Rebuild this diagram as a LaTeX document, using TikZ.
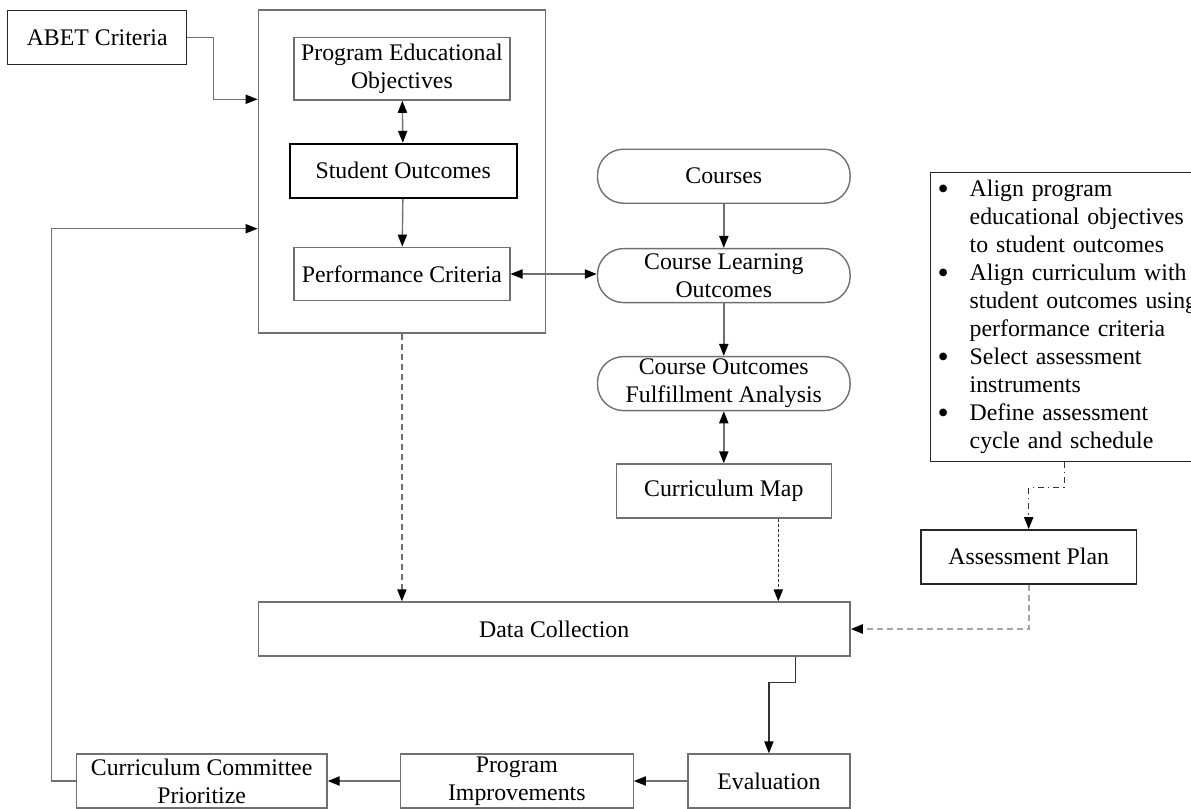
\documentclass[tikz,border=0pt]{standalone}
\usepackage{fontspec}
\setmainfont{Liberation Serif}
\usetikzlibrary{positioning,arrows.meta}
\definecolor{linegray}{HTML}{707070}
\definecolor{dashgray}{HTML}{A4A4A4}
\newcommand{\dotmark}{\raisebox{-1.4pt}{\fontsize{16}{14}\selectfont\textbullet}}
\tikzset{
	box/.style={draw=linegray, line width=0.7pt, inner sep=0pt, align=center, minimum height=27pt},
	pill/.style={box, rounded corners=13pt},
	arr/.style={draw=linegray, line width=0.7pt, -{Triangle[length=6pt,width=4.6pt,color=black,fill=black]}},
	dbl/.style={arr, {Triangle[length=6pt,width=4.6pt,color=black,fill=black]}-{Triangle[length=6pt,width=4.6pt,color=black,fill=black]}},
}
\begin{document}
\begin{tikzpicture}[x=0.5pt, y=-0.5pt, font=\fontsize{11.9}{14}\selectfont]
	\useasboundingbox (0,0) rectangle (1191,809);

	\node[box, draw=black!85, minimum width=89.5pt] (abet) at (97.2,37.5) {ABET Criteria};
	\node[box, minimum width=143.6pt, minimum height=161.4pt] (prog) at (401.9,171.4) {};
	\node[box, minimum width=107.9pt, minimum height=31.4pt] (peo) at (401.9,68.7) {Program Educational\\Objectives};
	\node[box, draw=black, line width=1pt, minimum width=113.5pt] (so) at (403.2,170.8) {Student Outcomes};
	\node[box, minimum width=107.9pt, minimum height=26.7pt] (pc) at (401.9,274) {Performance Criteria};

	\node[pill, minimum width=126.3pt] (courses) at (723.8,176.2) {Courses};
	\node[pill, minimum width=126.3pt, below=22pt of courses] (clo) {Course Learning\\Outcomes};
	\node[pill, minimum width=126.3pt, below=26.3pt of clo] (cofa) {Course Outcomes\\Fulfillment Analysis};
	\node[box, minimum width=107.6pt, below=26pt of cofa] (cmap) {Curriculum Map};

	\node[draw=black!85, line width=0.7pt, anchor=north west, inner xsep=3.5pt, inner ysep=2.2pt, text width=140pt, align=left] (plan) at (930,171.7) {%
		\begin{tabular}{@{}p{16pt}@{}l@{}}
			\dotmark & Align program\\
			& educational objectives\\
			& to student outcomes\\
			\dotmark & Align curriculum with\\
			& student outcomes using\\
			& performance criteria\\
			\dotmark & Select assessment\\
			& instruments\\
			\dotmark & Define assessment\\
			& cycle and schedule
		\end{tabular}};
	\node[box, draw=black!85, minimum width=107.7pt] (ap) at (1028.7,556.8) {Assessment Plan};

	\node[box, minimum width=295.9pt] (dc) at (554.2,629) {Data Collection};
	\node[box, minimum width=80.9pt] (eval) at (768.9,781) {Evaluation};
	\node[box, minimum width=116.4pt, left=26.7pt of eval] (pi) {Program\\Improvements};
	\node[box, minimum width=125.4pt, left=36pt of pi] (cc) {Curriculum Committee\\Prioritize};

	\coordinate (abetbend) at (213.5,99.3);
	\coordinate (loop) at (51.7,228.7);
	\coordinate (cmx) at (778.3,0);
	\coordinate (planbend) at (1064.3,487.7);
	\coordinate (dcbend) at (795.5,682.7);

	\draw[arr] (abet.east) -| (abetbend) -- (abetbend -| prog.west);
	\draw[dbl] (peo) -- (so);
	\draw[arr] (so) -- (pc);
	\draw[dbl] (pc.east) -- (pc.east -| clo.west);
	\draw[arr] (courses) -- (clo);
	\draw[arr] (clo) -- (cofa);
	\draw[dbl] (cofa) -- (cmap);

	\draw[arr, dash pattern=on 3pt off 2pt] (prog.south) -- (prog.south |- dc.north);
	\draw[arr, draw=black!80, dash pattern=on 1.5pt off 1pt] (cmap.south -| cmx) -- (dc.north -| cmx);
	\draw[arr, draw=black!80, dash dot] (plan.south -| planbend) -- (planbend) -| (ap.north);
	\draw[arr, draw=dashgray, line width=1pt, dash pattern=on 3pt off 2pt] (ap.south) |- (dc.east);

	\draw[arr, draw=black!80] (dc.south -| dcbend) -- (dcbend) -| (eval.north);
	\draw[arr] (eval) -- (pi);
	\draw[arr] (pi) -- (cc);
	\draw[arr] (cc.west) -| (loop) -- (loop -| prog.west);

\end{tikzpicture}
\end{document}
